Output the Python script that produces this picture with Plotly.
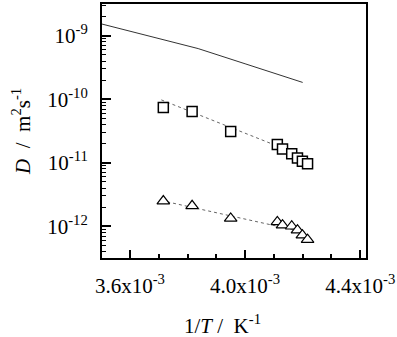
import plotly.graph_objects as go

# ---- data ----
line_x = [3.50e-3, 3.65e-3, 3.837e-3, 4.00e-3, 4.20e-3]
line_y = [1.54e-9, 1.04e-9, 6.28e-10, 3.62e-10, 1.84e-10]

pts_x = [3.716e-3, 3.816e-3, 3.950e-3, 4.112e-3, 4.130e-3, 4.162e-3, 4.182e-3, 4.199e-3, 4.217e-3]
sq_y = [7.41e-11, 6.42e-11, 3.10e-11, 1.93e-11, 1.65e-11, 1.38e-11, 1.19e-11, 1.06e-11, 9.62e-12]
tri_y = [2.49e-12, 2.10e-12, 1.33e-12, 1.17e-12, 1.04e-12, 1.00e-12, 8.67e-13, 7.25e-13, 6.16e-13]

fit_x = [3.709e-3, 4.216e-3]
fit_sq_y = [9.77e-11, 1.19e-11]
fit_tri_y = [2.54e-12, 7.87e-13]

x_ticks = [3.6e-3, 4.0e-3, 4.4e-3]
x_ticktext = ["3.6x10<sup>-3</sup>", "4.0x10<sup>-3</sup>", "4.4x10<sup>-3</sup>"]
x_minor = [3.7e-3, 3.8e-3, 3.9e-3, 4.1e-3, 4.2e-3, 4.3e-3]
y_ticks = [1e-12, 1e-11, 1e-10, 1e-9]
y_ticktext = ["10<sup>-12</sup>", "10<sup>-11</sup>", "10<sup>-10</sup>", "10<sup>-9</sup>"]
y_minor = [k * 10.0 ** d for d in range(-13, -8) for k in range(2, 10)]

FONT = "Liberation Serif"
FS = 21

fig = go.Figure()
fig.add_trace(go.Scatter(x=line_x, y=line_y, mode="lines",
                         line=dict(color="#333333", width=1), hoverinfo="skip"))
fig.add_trace(go.Scatter(x=fit_x, y=fit_sq_y, mode="lines",
                         line=dict(color="#666666", width=1, dash="dot")))
fig.add_trace(go.Scatter(x=fit_x, y=fit_tri_y, mode="lines",
                         line=dict(color="#666666", width=1, dash="dot")))
fig.add_trace(go.Scatter(x=pts_x, y=sq_y, mode="markers",
                         marker=dict(symbol="square", size=10, color="white",
                                     line=dict(color="black", width=1.5))))
fig.add_trace(go.Scatter(x=pts_x, y=tri_y, mode="markers",
                         marker=dict(symbol="triangle-up", size=11, color="white",
                                     line=dict(color="black", width=1.2))))

fig.update_layout(
    width=397, height=337,
    margin=dict(l=102, r=28, t=2, b=79),
    paper_bgcolor="white", plot_bgcolor="white",
    showlegend=False,
    font=dict(family=FONT, size=FS, color="black"),
    xaxis=dict(range=[3.503e-3, 4.42e-3], showgrid=False, zeroline=False,
               showline=True, linecolor="black", linewidth=2, mirror=True,
               ticks="inside", ticklen=8, tickwidth=2, tickcolor="black",
               tickmode="array", tickvals=x_ticks, ticktext=x_ticktext,
               ticklabelstandoff=8, ticklabeloverflow="allow",
               tickfont=dict(family=FONT, size=FS),
               minor=dict(tickmode="array", tickvals=x_minor, ticks="inside",
                          ticklen=4, tickwidth=1.5, tickcolor="black")),
    yaxis=dict(type="log", range=[-12.5, -8.5], showgrid=False, zeroline=False,
               showline=True, linecolor="black", linewidth=2, mirror=True,
               ticks="inside", ticklen=9, tickwidth=2, tickcolor="black",
               tickmode="array", tickvals=y_ticks, ticktext=y_ticktext,
               ticklabelstandoff=8, ticklabeloverflow="allow",
               tickfont=dict(family=FONT, size=FS),
               minor=dict(tickmode="array", tickvals=y_minor, ticks="inside",
                          ticklen=4, tickwidth=1.2, tickcolor="black")),
    annotations=[
        dict(text="1/<i>T</i> /  K<sup>-1</sup>", xref="paper", yref="paper",
             x=0.457, y=-0.262, xanchor="center", yanchor="middle",
             showarrow=False, font=dict(family=FONT, size=FS)),
        dict(text="<i>D</i>  /  m<sup>2</sup>s<sup>-1</sup>", xref="paper", yref="paper",
             x=-0.307, y=0.5, xanchor="center", yanchor="middle", textangle=-90,
             showarrow=False, font=dict(family=FONT, size=FS)),
    ],
)

fig.write_html("out.html", config={"displayModeBar": False},
               post_script="document.body.style.margin='0';document.body.style.overflow='hidden';")
